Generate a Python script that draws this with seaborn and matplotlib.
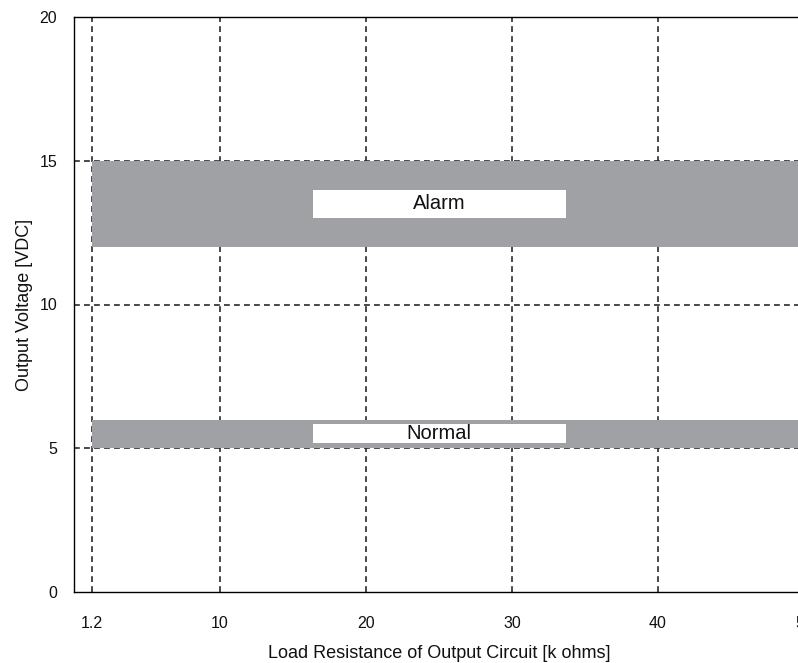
import numpy as np
import pandas as pd
import matplotlib
matplotlib.use("Agg")
import matplotlib.pyplot as plt
import seaborn as sns

# ----- Dati -----
band_names = ["Alarm", "Normal"]
band_low = [12, 5]      # VDC
band_high = [15, 6]     # VDC
r_range = [1.2, 50]     # k ohms, load resistance range
x_ticks = [1.2, 10, 20, 30, 40, 50]
x_tick_labels = ["1.2", "10", "20", "30", "40", "50"]
y_ticks = [0, 5, 10, 15, 20]

bands = pd.DataFrame({"name": band_names, "low": band_low, "high": band_high})

# ----- Stile -----
sns.set_theme(style="white")
plt.rcParams["font.family"] = ["Liberation Sans", "DejaVu Sans"]

W, H = 798, 663
fig = plt.figure(figsize=(W / 100, H / 100), dpi=100)
# l'asse destro (x=50) cade fuori dall'immagine come nell'originale
ax = fig.add_axes([74 / W, (H - 592) / H, (804 - 74) / W, (592 - 17) / H])

band_color = "#a0a1a5"
for _, row in bands.iterrows():
    ax.fill_between(r_range, row["low"], row["high"], color=band_color, lw=0, zorder=1)
    # etichetta in un riquadro bianco
    yc = (row["low"] + row["high"]) / 2
    hh = 0.5 if row["name"] == "Alarm" else 0.33
    ax.fill_between([16.4, 33.7], yc - hh, yc + hh, color="white", lw=0, zorder=3)
    ax.text(25, yc, row["name"], ha="center", va="center", fontsize=14.5, color="#111111", zorder=4)

ax.set_xlim(0, 50)
ax.set_ylim(0, 20)
ax.set_xticks(x_ticks)
ax.set_xticklabels(x_tick_labels)
ax.set_yticks(y_ticks)

ax.grid(True, color="#2a2a2a", lw=1.2, linestyle=(0, (3.5, 2.5)))
# niente griglia sotto i bordi (0 e 20)
ygl = ax.get_ygridlines()
ygl[0].set_visible(False)
ygl[-1].set_visible(False)

ax.tick_params(axis="both", length=0, labelsize=11.5, colors="#111111")
ax.tick_params(axis="x", pad=17)
ax.tick_params(axis="y", pad=12)

for s in ax.spines.values():
    s.set_color("black")
    s.set_linewidth(1.0)

ax.set_xlabel("Load Resistance of Output Circuit [k ohms]", fontsize=13, labelpad=10, color="#111111")
ax.set_ylabel("Output Voltage [VDC]", fontsize=13, labelpad=5, color="#111111")

fig.savefig("out.png", dpi=100)
